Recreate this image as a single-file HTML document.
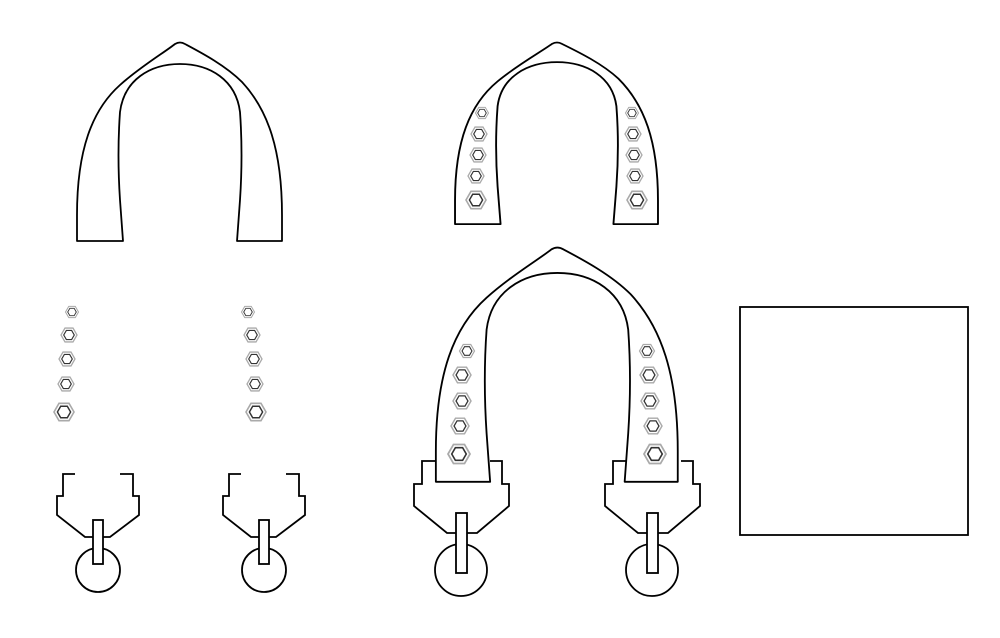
<!DOCTYPE html>
<html><head><meta charset="utf-8"><style>html,body{margin:0;padding:0;background:#fff}svg{display:block}</style></head>
<body>
<svg width="1000" height="638" viewBox="0 0 1000 638" xmlns="http://www.w3.org/2000/svg">
<defs>
<path id="strap" d="M77,241 L77,215 C77,150 92,110 120,85 C140,67 165,52 175,44 Q180,41 185,44 C200,52 225,65 242,82 C268,110 282,150 282,215 L282,241 L237,241 L240,200 C242,170 242,140 240,112 C236,80 210,64 180,64 C150,64 124,80 120,112 C118,140 118,170 120,200 L123,241 Z"/>
<g id="hx"><polygon points="-0.5,-0.866 0.5,-0.866 1,0 0.5,0.866 -0.5,0.866 -1,0" transform="scale(0.5)" fill="none" stroke="#aaa" stroke-width="0.16"/><polygon points="-0.5,-0.866 0.5,-0.866 1,0 0.5,0.866 -0.5,0.866 -1,0" transform="scale(0.33)" fill="none" stroke="#333" stroke-width="0.22"/></g>
</defs>
<g fill="#fff" stroke="#000" stroke-width="1.8" stroke-linejoin="round">
<use href="#strap"/>
<g transform="translate(378.8,3.6) scale(0.99,0.915)"><use href="#strap" stroke-width="1.9"/></g>
<g transform="translate(345,197.4) scale(1.18)"><use href="#strap" stroke-width="1.55"/></g>
</g>
<g fill="none" stroke="#000" stroke-width="1.8">
<g id="sc">
<polyline points="75,474 63,474 63,496 57,496 57,515 85,537 110,537 139,515 139,496 133,496 133,474 120,474"/>
<circle cx="98" cy="570" r="22" fill="#fff"/>
<rect x="93" y="520" width="10" height="44" fill="#fff"/>
</g>
<use href="#sc" transform="translate(166,0)"/>
<g id="bc">
<polyline points="435,461 422,461 422,484 414,484 414,506 447,533 477,533 509,506 509,484 502,484 502,461 490,461"/>
<circle cx="461" cy="570" r="26" fill="#fff"/>
<rect x="456" y="513" width="11" height="60" fill="#fff"/>
</g>
<use href="#bc" transform="translate(191,0)"/>
<rect x="740" y="307" width="228" height="228"/>
</g>
<g>
<use href="#hx" transform="translate(72,312) scale(13)"/>
<use href="#hx" transform="translate(69,335) scale(16)"/>
<use href="#hx" transform="translate(67,359) scale(16)"/>
<use href="#hx" transform="translate(66,384) scale(16)"/>
<use href="#hx" transform="translate(64,412) scale(20)"/>
<use href="#hx" transform="translate(248,312) scale(13)"/>
<use href="#hx" transform="translate(252,335) scale(16)"/>
<use href="#hx" transform="translate(254,359) scale(16)"/>
<use href="#hx" transform="translate(255,384) scale(16)"/>
<use href="#hx" transform="translate(256,412) scale(20)"/>
<use href="#hx" transform="translate(482,113) scale(13)"/>
<use href="#hx" transform="translate(479,134) scale(16)"/>
<use href="#hx" transform="translate(478,155) scale(16)"/>
<use href="#hx" transform="translate(476,176) scale(16)"/>
<use href="#hx" transform="translate(476,200) scale(20)"/>
<use href="#hx" transform="translate(632,113) scale(13)"/>
<use href="#hx" transform="translate(633,134) scale(16)"/>
<use href="#hx" transform="translate(634,155) scale(16)"/>
<use href="#hx" transform="translate(635,176) scale(16)"/>
<use href="#hx" transform="translate(637,200) scale(20)"/>
<use href="#hx" transform="translate(467,351) scale(15)"/>
<use href="#hx" transform="translate(462,375) scale(18)"/>
<use href="#hx" transform="translate(462,401) scale(18)"/>
<use href="#hx" transform="translate(460,426) scale(18)"/>
<use href="#hx" transform="translate(459,454) scale(22)"/>
<use href="#hx" transform="translate(647,351) scale(15)"/>
<use href="#hx" transform="translate(649,375) scale(18)"/>
<use href="#hx" transform="translate(650,401) scale(18)"/>
<use href="#hx" transform="translate(653,426) scale(18)"/>
<use href="#hx" transform="translate(655,454) scale(22)"/>
</g>
</svg>
</body></html>
